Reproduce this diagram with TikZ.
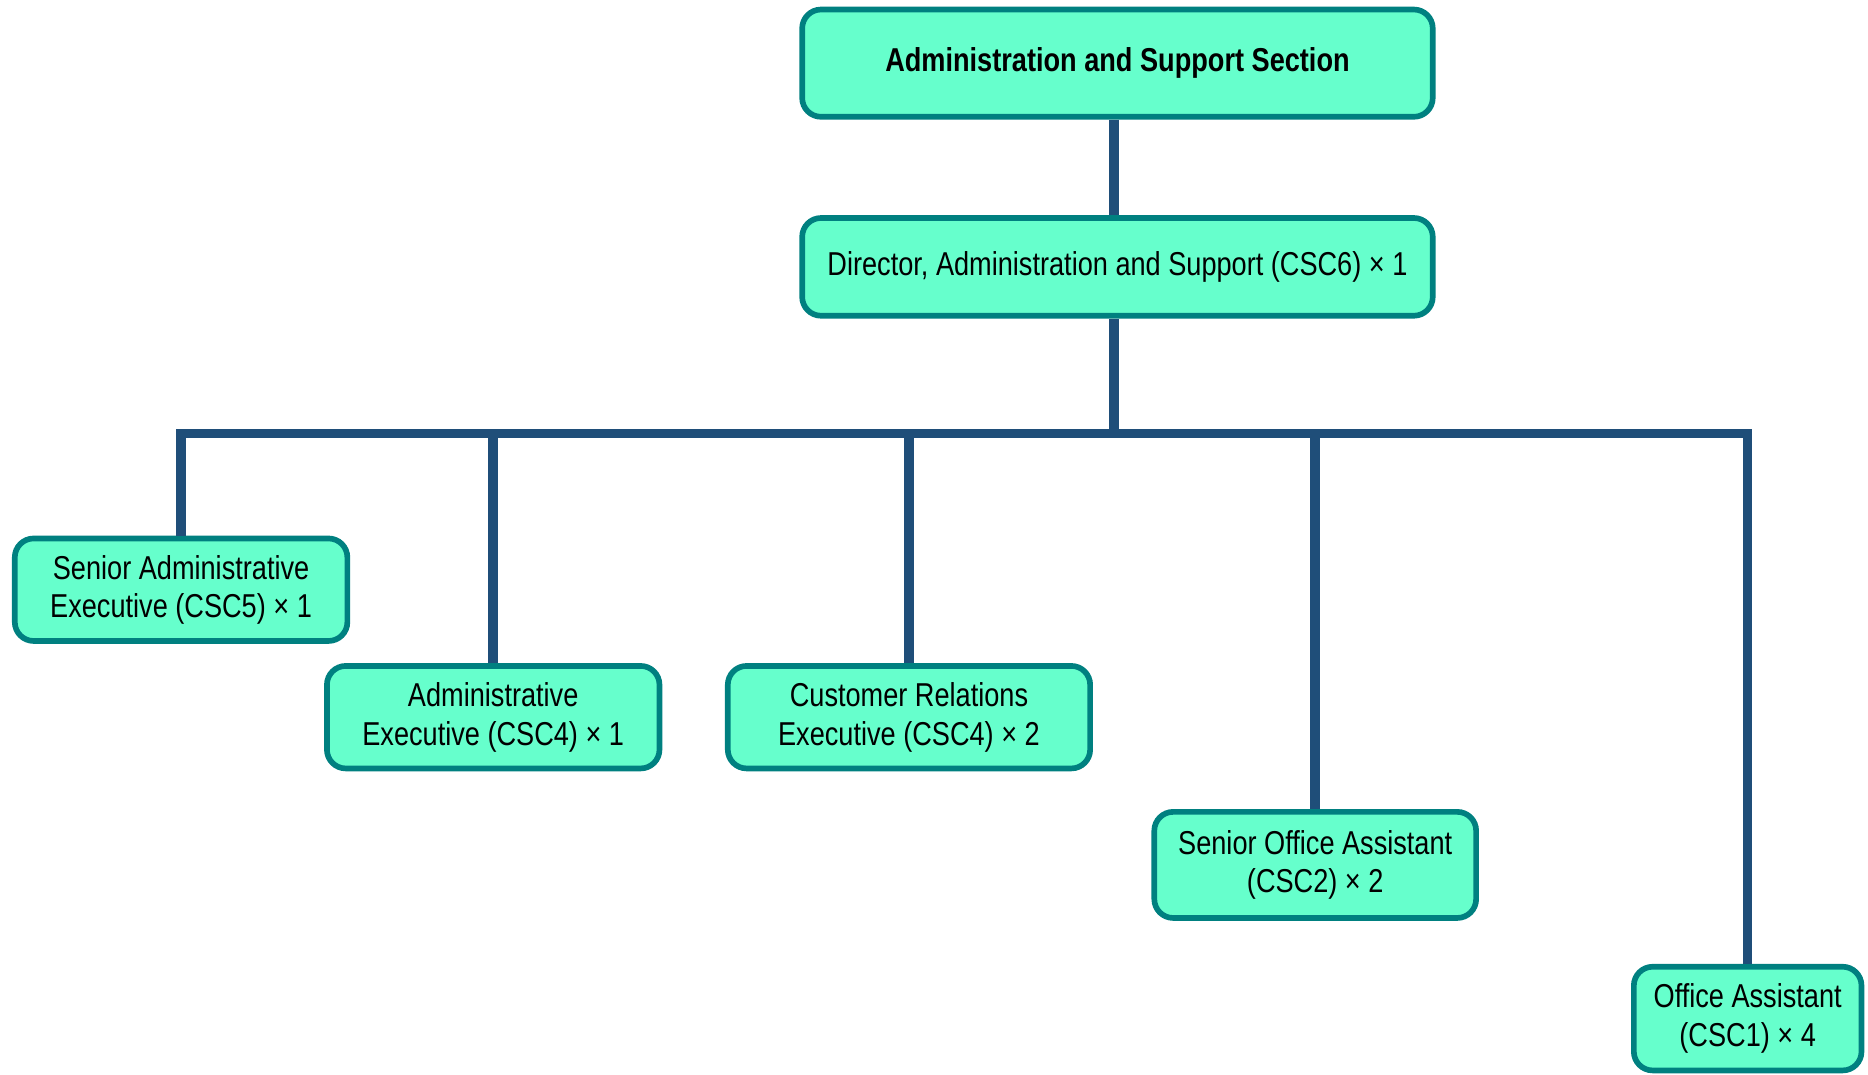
\documentclass[tikz,border=0pt]{standalone}
\usepackage{fontspec}
\setmainfont{Liberation Sans}[FakeStretch=0.82]
\definecolor{asMint}{HTML}{66FFCC}
\definecolor{asTeal}{HTML}{008080}
\definecolor{asNavy}{HTML}{1F4E79}
\usepackage{tikz}
\usetikzlibrary{positioning}

\tikzset{
  rolebox/.style={draw=asTeal, fill=asMint, line width=1.35pt, rounded corners=4.5pt,
    align=center, inner sep=0pt, font=\fontsize{7.9}{9.2}\selectfont},
  link/.style={draw=asNavy, line width=2.3pt}
}

\begin{document}
\begin{tikzpicture}[x=0.01cm, y=-0.01cm]
  \useasboundingbox (0,0) rectangle (1568,902);
  % section and head
  \node[rolebox, minimum width=5.29cm, minimum height=0.90cm, font=\fontsize{7.9}{9.2}\selectfont\bfseries]
    (sec) at (938,53) {Administration and Support Section};
  \node[rolebox, minimum width=5.29cm, minimum height=0.82cm]
    (dir) at (938,224) {Director, Administration and Support (CSC6) × 1};
  % staff
  \node[rolebox, minimum width=2.79cm, minimum height=0.86cm]
    (sae) at (152,495) {Senior Administrative\\Executive (CSC5) × 1};
  \node[rolebox, minimum width=2.79cm, minimum height=0.86cm]
    (ae) at (414,602) {Administrative\\Executive (CSC4) × 1};
  \node[rolebox, minimum width=3.04cm, minimum height=0.86cm]
    (cre) at (763,602) {Customer Relations\\Executive (CSC4) × 2};
  \node[rolebox, minimum width=2.70cm, minimum height=0.89cm]
    (soa) at (1104,726) {Senior Office Assistant\\(CSC2) × 2};
  \node[rolebox, minimum width=1.91cm, minimum height=0.87cm]
    (oa) at (1467,855) {Office Assistant\\(CSC1) × 4};
  \coordinate (bus) at (935,364);

  \draw[link] (sec.south -| bus) -- (dir.north -| bus);
  \draw[link] (dir.south -| bus) -- (bus);
  \foreach \staff in {sae,ae,cre,soa,oa}
    \draw[link] (bus) -| (\staff.north);
\end{tikzpicture}
\end{document}
